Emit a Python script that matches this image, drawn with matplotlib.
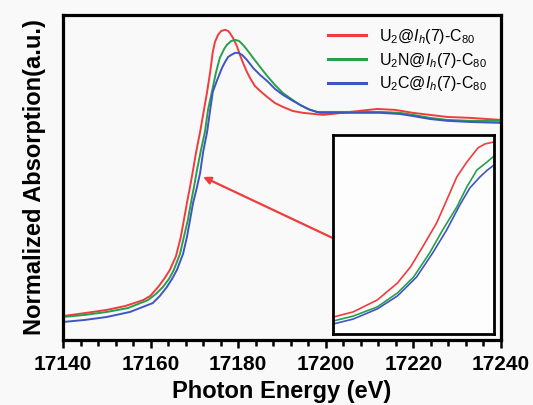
import matplotlib
matplotlib.use("Agg")
import matplotlib.pyplot as plt

plt.rcParams['font.family'] = ['Liberation Sans', 'DejaVu Sans']
plt.rcParams['mathtext.fontset'] = 'custom'
plt.rcParams['mathtext.rm'] = 'Liberation Sans'
plt.rcParams['mathtext.it'] = 'Liberation Sans:italic'
plt.rcParams['mathtext.bf'] = 'Liberation Sans:bold'

# ---- data (main panel) ----
labels = [r'U$_2$@$I_h$(7)-C$_{80}$', r'U$_2$N@$I_h$(7)-C$_{80}$', r'U$_2$C@$I_h$(7)-C$_{80}$']
colors = ['#f03c3c', '#27a04a', '#3f55c4']

red_E = [17140.0, 17145.0, 17150.0, 17154.2, 17158.3, 17159.9, 17161.7, 17163.1, 17164.4, 17165.8,
         17166.9, 17167.6, 17168.3, 17169.0, 17169.7, 17170.4, 17171.3, 17172.9, 17173.6, 17174.2,
         17174.7, 17175.4, 17176.1, 17177.0, 17177.7, 17178.1, 17178.8, 17179.7, 17180.4, 17181.1,
         17182.0, 17182.7, 17183.8, 17185.0, 17186.6, 17188.4, 17190.2, 17192.5, 17194.8, 17199.4,
         17205.5, 17211.7, 17215.8, 17219.9, 17223.8, 17227.7, 17232.9, 17240.0]
red_v = [0.105, 0.118, 0.132, 0.149, 0.175, 0.193, 0.232, 0.268, 0.307, 0.368,
         0.452, 0.526, 0.601, 0.671, 0.746, 0.825, 0.912, 1.088, 1.175, 1.263,
         1.307, 1.338, 1.355, 1.360, 1.355, 1.346, 1.325, 1.289, 1.250, 1.215,
         1.175, 1.149, 1.114, 1.092, 1.066, 1.039, 1.022, 1.004, 0.996, 0.987,
         1.000, 1.013, 1.009, 0.996, 0.987, 0.978, 0.974, 0.965]

green_E = [17140.0, 17145.0, 17150.0, 17154.8, 17159.4, 17161.2, 17162.8, 17164.2, 17165.3, 17166.7,
           17167.6, 17168.5, 17169.2, 17169.9, 17170.6, 17171.5, 17172.4, 17173.1, 17174.0, 17174.9,
           17175.8, 17176.8, 17177.4, 17178.4, 17179.3, 17180.2, 17181.1, 17182.2, 17183.4, 17185.0,
           17186.6, 17188.4, 17190.2, 17192.1, 17194.1, 17195.9, 17198.0, 17205.5, 17212.4, 17216.9,
           17219.9, 17223.8, 17227.7, 17232.9, 17240.0]
green_v = [0.101, 0.110, 0.123, 0.140, 0.175, 0.202, 0.232, 0.268, 0.307, 0.377,
           0.452, 0.526, 0.601, 0.671, 0.746, 0.833, 0.912, 1.009, 1.088, 1.171,
           1.237, 1.276, 1.294, 1.311, 1.316, 1.311, 1.294, 1.268, 1.237, 1.197,
           1.158, 1.118, 1.083, 1.057, 1.031, 1.013, 1.000, 1.000, 1.000, 0.996,
           0.987, 0.974, 0.965, 0.961, 0.961]

blue_E = [17140.0, 17145.0, 17150.0, 17155.3, 17160.5, 17162.1, 17163.7, 17164.9, 17166.0, 17167.4,
          17168.3, 17169.0, 17169.7, 17170.6, 17171.3, 17172.0, 17172.9, 17173.6, 17174.2, 17175.2,
          17176.3, 17177.0, 17177.7, 17178.4, 17179.3, 17180.0, 17180.9, 17182.0, 17183.4, 17185.0,
          17186.6, 17188.4, 17190.2, 17192.1, 17194.1, 17196.4, 17198.7, 17205.5, 17212.4, 17216.9,
          17219.9, 17223.8, 17227.7, 17232.9, 17240.0]
blue_v = [0.079, 0.088, 0.101, 0.123, 0.162, 0.193, 0.232, 0.268, 0.307, 0.377,
          0.452, 0.526, 0.601, 0.671, 0.732, 0.825, 0.912, 1.009, 1.088, 1.140,
          1.193, 1.219, 1.241, 1.250, 1.259, 1.259, 1.250, 1.228, 1.193, 1.162,
          1.136, 1.101, 1.075, 1.053, 1.031, 1.009, 0.996, 0.996, 0.996, 0.991,
          0.982, 0.969, 0.961, 0.956, 0.952]

# ---- data (inset, zoom on the rising edge) ----
in_red_E = [17160.0, 17162.0, 17164.4, 17166.4, 17167.7, 17168.9, 17170.3, 17171.3, 17172.3, 17173.3,
            17174.4, 17175.1, 17176.0]
in_red_v = [0.285, 0.311, 0.371, 0.456, 0.537, 0.637, 0.758, 0.873, 0.989, 1.064,
            1.135, 1.155, 1.165]
in_green_E = [17160.0, 17162.0, 17164.4, 17166.4, 17168.0, 17169.6, 17170.9, 17172.3, 17173.3, 17174.3,
              17175.3, 17176.0]
in_green_v = [0.265, 0.290, 0.336, 0.406, 0.486, 0.607, 0.723, 0.838, 0.939, 1.024,
              1.064, 1.094]
in_blue_E = [17160.0, 17162.0, 17164.4, 17166.4, 17168.3, 17169.9, 17171.3, 17172.6, 17173.6, 17174.6,
             17175.3, 17176.0]
in_blue_v = [0.250, 0.275, 0.326, 0.391, 0.486, 0.607, 0.723, 0.848, 0.934, 0.989,
             1.022, 1.049]

xticks = [17140, 17160, 17180, 17200, 17220, 17240]

bg = '#f9f9f9'
fig = plt.figure(figsize=(5.33, 4.05), dpi=100, facecolor=bg)
ax = fig.add_axes([63/533, 1-340/405, (501-63)/533, (340-15)/405], facecolor=bg)

series = [(red_E, red_v), (green_E, green_v), (blue_E, blue_v)]
for (E, v), c, lab in zip(series, colors, labels):
    ax.plot(E, v, color=c, lw=1.4, label=lab, solid_joinstyle='round')

ax.set_xlim(17140, 17240)
ax.set_ylim(0, 1.425)
ax.set_yticks([])
ax.set_xticks(xticks)
ax.set_xticks(range(17140, 17241, 4), minor=True)
ax.set_xticklabels([str(t) for t in xticks], fontsize=15, fontweight='bold')
ax.tick_params(axis='x', which='major', direction='out', length=6, width=1.8, pad=5)
ax.tick_params(axis='x', which='minor', direction='out', length=4.5, width=1.8)
for s in ax.spines.values():
    s.set_linewidth(2.3)

ax.set_xlabel('Photon Energy (eV)', fontsize=17, fontweight='bold', labelpad=4)
ax.set_ylabel('Normalized Absorption(a.u.)', fontsize=17, fontweight='bold', labelpad=12)

leg = ax.legend(loc='upper right', bbox_to_anchor=(1.0, 1.008), frameon=False,
                fontsize=11.5, handlelength=2.4, handletextpad=0.8, labelspacing=0.3)
for h in leg.legend_handles:
    h.set_linewidth(2.2)

# arrow from inset to the edge
arrow_head = (17172.0, 0.715)
arrow_tail = (17201.6, 0.447)
ax.annotate('', xy=arrow_head, xytext=arrow_tail,
            arrowprops=dict(arrowstyle='-|>', color=colors[0], lw=1.6,
                            mutation_scale=11, shrinkA=0, shrinkB=0))

# inset
axin = fig.add_axes([333/533, 1-334/405, (494-333)/533, (334-135)/405], facecolor='#fdfdfd')
for (E, v), c in zip([(in_red_E, in_red_v), (in_green_E, in_green_v), (in_blue_E, in_blue_v)], colors):
    axin.plot(E, v, color=c, lw=1.2, solid_joinstyle='round')
axin.set_xlim(17160, 17176)
axin.set_ylim(0.2, 1.2)
axin.set_xticks([])
axin.set_yticks([])
for s in axin.spines.values():
    s.set_linewidth(2.0)

fig.savefig('out.png', dpi=100, facecolor=bg)
